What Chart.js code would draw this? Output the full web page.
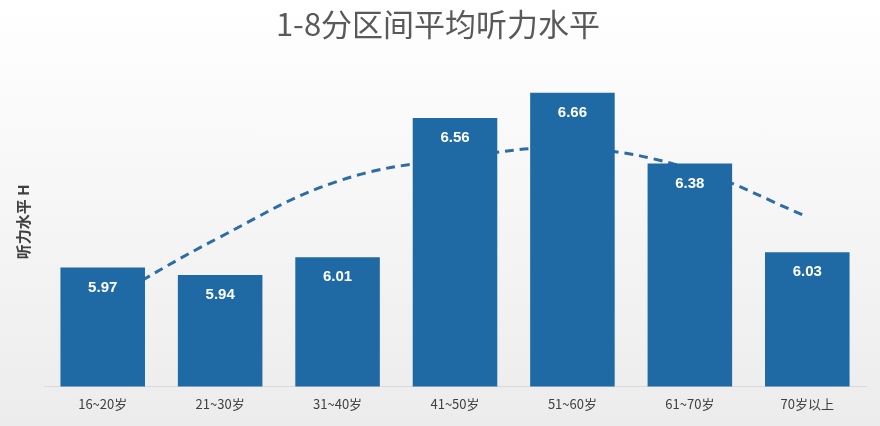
<!DOCTYPE html>
<html>
<head>
<meta charset="utf-8">
<script src="https://cdn.jsdelivr.net/npm/chart.js@4"></script>
<style>
  html, body { margin: 0; padding: 0; }
  body { width: 880px; height: 426px; background: linear-gradient(#ffffff, #ececec); }
  #wrap { width: 880px; height: 426px; }
</style>
</head>
<body>
<div id="wrap"><canvas id="c"></canvas></div>
<script>
const categories = ['16~20岁', '21~30岁', '31~40岁', '41~50岁', '51~60岁', '61~70岁', '70岁以上'];
const hearing = [5.97, 5.94, 6.01, 6.56, 6.66, 6.38, 6.03];
// dashed trend line
const trend = [5.83, 6.09, 6.31, 6.40, 6.44, 6.36, 6.17];

// white value labels inside the top of each bar
const barLabels = {
  id: 'barLabels',
  afterDatasetsDraw(chart) {
    const ctx = chart.ctx;
    const meta = chart.getDatasetMeta(0);
    ctx.save();
    ctx.fillStyle = '#ffffff';
    ctx.font = 'bold 15px "Liberation Sans", Arial, sans-serif';
    ctx.textAlign = 'center';
    ctx.textBaseline = 'middle';
    meta.data.forEach((bar, i) => {
      ctx.fillText(hearing[i].toFixed(2), bar.x, bar.y + 20);
    });
    ctx.restore();
  }
};

new Chart(document.getElementById('c'), {
  type: 'bar',
  data: {
    labels: categories,
    datasets: [{
      data: hearing,
      backgroundColor: '#1f6aa5',
      barPercentage: 0.72,
      categoryPercentage: 1,
      order: 1
    }, {
      type: 'line',
      data: trend,
      borderColor: '#2e6ca4',
      borderWidth: 3,
      borderDash: [9, 6],
      pointRadius: 0,
      tension: 0.4,
      order: 2
    }]
  },
  options: {
    responsive: true,
    maintainAspectRatio: false,
    animation: false,
    layout: { padding: { left: 10, right: 14, top: 0, bottom: 4 } },
    plugins: {
      legend: { display: false },
      tooltip: { enabled: false },
      title: {
        display: true,
        text: '1-8分区间平均听力水平',
        color: '#595959',
        font: { size: 31, family: '"Noto Sans CJK SC", sans-serif', weight: 'normal' },
        padding: { top: 6, bottom: 14 }
      }
    },
    scales: {
      x: {
        grid: { display: false, drawTicks: false },
        border: { color: '#d9d9d9' },
        ticks: { color: '#404040', font: { size: 13, family: '"Noto Sans CJK SC", sans-serif' }, padding: 10 }
      },
      y: {
        min: 5.5,
        max: 6.8,
        grid: { display: false },
        border: { display: false },
        ticks: { display: false },
        title: {
          display: true,
          text: '听力水平 H',
          color: '#404040',
          font: { size: 15, family: '"Noto Sans CJK SC", sans-serif', weight: 'bold' }
        }
      }
    }
  },
  plugins: [barLabels]
});
</script>
</body>
</html>
